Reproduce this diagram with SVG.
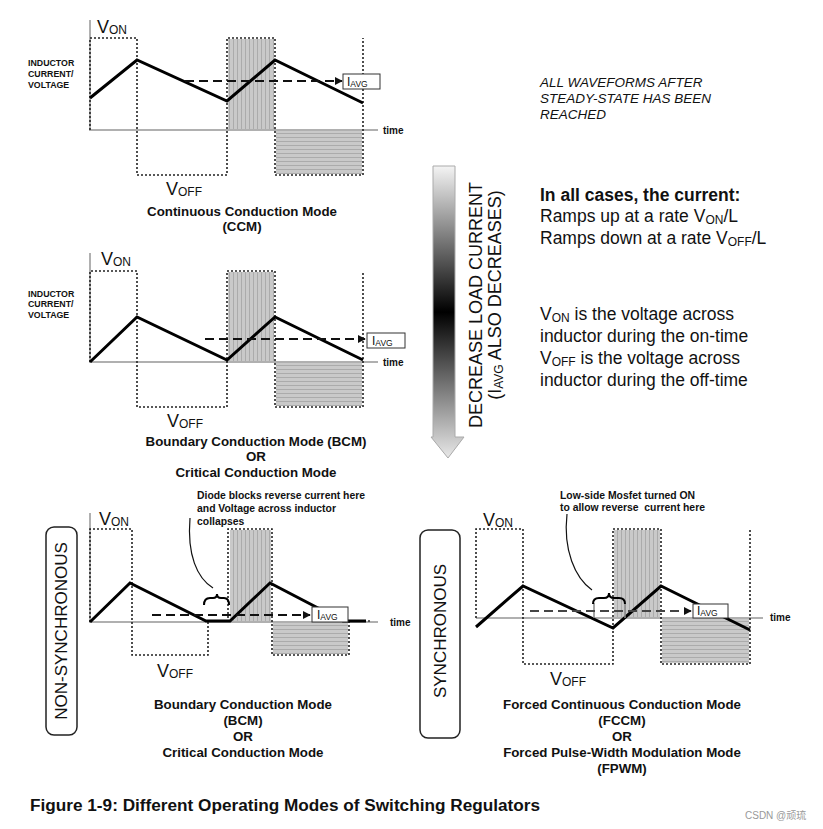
<svg xmlns="http://www.w3.org/2000/svg" width="823" height="829" viewBox="0 0 823 829">
<defs>
<style>
text{font-family:"Liberation Sans",Arial,sans-serif;fill:#111}
.ax{stroke:#b0b0b0;stroke-width:2;fill:none}
.dot{stroke:#222;stroke-width:1.6;stroke-dasharray:2 2;fill:none}
.wave{stroke:#000;stroke-width:3;fill:none;stroke-linejoin:miter}
.dash{stroke:#111;stroke-width:2;stroke-dasharray:9 5;fill:none}
.box{fill:#fff;stroke:#333;stroke-width:1}
.lbl{font-size:8.8px;font-weight:bold}
.tm{font-size:10px;font-weight:bold}
.ttl{font-size:13.3px;font-weight:bold;text-anchor:middle}
.ann{font-size:10.4px;font-weight:bold}
.v{font-size:18px}
.sub{font-size:12px}
.ia{font-size:12px}
.ias{font-size:8.5px}
.rt{font-size:17.5px}
.it{font-size:13.5px;font-style:italic}
.vert{font-size:17px;text-anchor:middle}
</style>
<pattern id="pv" width="4" height="4" patternUnits="userSpaceOnUse"><rect width="4" height="4" fill="#c9c9c9"/><rect x="1" width="1" height="4" fill="#ababab"/></pattern>
<pattern id="ph" width="4" height="4" patternUnits="userSpaceOnUse"><rect width="4" height="4" fill="#c9c9c9"/><rect y="1" width="4" height="1" fill="#ababab"/></pattern>
<marker id="ah" viewBox="0 0 10 10" refX="9" refY="5" markerWidth="4" markerHeight="4" orient="auto"><path d="M0,0 L10,5 L0,10 Z" fill="#111"/></marker>
<linearGradient id="gr" x1="0" y1="0" x2="0" y2="1">
<stop offset="0" stop-color="#f4f4f4"/><stop offset="0.5" stop-color="#000"/><stop offset="1" stop-color="#e8e8e8"/>
</linearGradient>
</defs>
<rect width="823" height="829" fill="#fff"/>

<!-- Top plot: CCM -->
<g id="ccm">
<rect x="228" y="39" width="46" height="91" fill="url(#pv)"/>
<rect x="276" y="131" width="86" height="43" fill="url(#ph)"/>
<path class="ax" d="M90,20 V130 H378"/>
<path class="dot" d="M90,130 V38 H137 V175 H227 V38 H275 V175 H363 V38"/>
<path class="wave" d="M90,98 L137,60 L227,101 L275,60 L363,103"/>
<path class="dash" d="M185,81 H342" marker-end="url(#ah)"/>
<rect class="box" x="343" y="74" width="37" height="15"/>
<text x="347" y="86"><tspan class="ia">I</tspan><tspan class="ias" dy="1">AVG</tspan></text>
<text class="lbl" x="28" y="66">INDUCTOR</text>
<text class="lbl" x="28" y="77">CURRENT/</text>
<text class="lbl" x="28" y="88">VOLTAGE</text>
<text class="tm" x="383" y="134">time</text>
<text x="97" y="33"><tspan class="v">V</tspan><tspan class="sub" dy="1">ON</tspan></text>
<text x="166" y="195"><tspan class="v">V</tspan><tspan class="sub" dy="1">OFF</tspan></text>
<text class="ttl" x="242" y="216">Continuous Conduction Mode</text>
<text class="ttl" x="242" y="231">(CCM)</text>
</g>

<!-- Middle plot: BCM -->
<g id="bcm">
<rect x="228" y="272" width="46" height="90" fill="url(#pv)"/>
<rect x="276" y="363" width="86" height="43" fill="url(#ph)"/>
<path class="ax" d="M90,253 V362 H378"/>
<path class="dot" d="M90,362 V271 H137 V407 H227 V271 H275 V407 H363 V271"/>
<path class="wave" d="M90,362 L137,317 L227,360 L275,317 L363,360"/>
<path class="dash" d="M205,339 H365" marker-end="url(#ah)"/>
<rect class="box" x="367" y="333" width="38" height="15"/>
<text x="372" y="345"><tspan class="ia">I</tspan><tspan class="ias" dy="1">AVG</tspan></text>
<text class="lbl" x="28" y="297">INDUCTOR</text>
<text class="lbl" x="28" y="307">CURRENT/</text>
<text class="lbl" x="28" y="318">VOLTAGE</text>
<text class="tm" x="383" y="366">time</text>
<text x="101" y="265"><tspan class="v">V</tspan><tspan class="sub" dy="1">ON</tspan></text>
<text x="167" y="427"><tspan class="v">V</tspan><tspan class="sub" dy="1">OFF</tspan></text>
<text class="ttl" x="256" y="446">Boundary Conduction Mode (BCM)</text>
<text class="ttl" x="256" y="461">OR</text>
<text class="ttl" x="256" y="477">Critical Conduction Mode</text>
</g>

<!-- Bottom-left: non-synchronous -->
<g id="nonsync">
<rect x="46" y="527" width="31" height="208" rx="8" fill="#fff" stroke="#222" stroke-width="1.5"/>
<text class="vert" transform="translate(67,631) rotate(-90)">NON-SYNCHRONOUS</text>
<rect x="230" y="530" width="41" height="92" fill="url(#pv)"/>
<rect x="273" y="623" width="75" height="31" fill="url(#ph)"/>
<path class="ax" d="M90,513 V622 H378"/>
<path class="dot" d="M90,622 V529 H132 V655 H208 V622 M228,622 V529 H272 V655 H349 V622"/>
<path class="wave" d="M90,622 L130,583 L206,621 L230,621 L270,583 L343,621 L366,621"/>
<circle cx="369" cy="621" r="1" fill="#333"/>
<path class="dash" d="M152,615 H310" marker-end="url(#ah)"/>
<rect class="box" x="312" y="607" width="36" height="15"/>
<text x="317" y="619"><tspan class="ia">I</tspan><tspan class="ias" dy="1">AVG</tspan></text>
<text class="tm" x="390" y="626">time</text>
<text x="99" y="525"><tspan class="v">V</tspan><tspan class="sub" dy="1">ON</tspan></text>
<text x="157" y="677"><tspan class="v">V</tspan><tspan class="sub" dy="1">OFF</tspan></text>
<path d="M204,605 Q204,598 210,598 L213,598 Q217,598 217,594 Q217,598 221,598 L224,598 Q229,598 229,605" fill="none" stroke="#000" stroke-width="2"/>
<path d="M190,518 C187,555 197,578 213,588" fill="none" stroke="#111" stroke-width="1.2"/>
<text class="ann" x="197" y="499">Diode blocks reverse current here</text>
<text class="ann" x="197" y="512">and Voltage across inductor</text>
<text class="ann" x="197" y="525">collapses</text>
<text class="ttl" x="243" y="709">Boundary Conduction Mode</text>
<text class="ttl" x="243" y="725">(BCM)</text>
<text class="ttl" x="243" y="741">OR</text>
<text class="ttl" x="243" y="757">Critical Conduction Mode</text>
</g>

<!-- Bottom-right: synchronous -->
<g id="sync">
<rect x="420" y="530" width="40" height="208" rx="8" fill="#fff" stroke="#222" stroke-width="1.5"/>
<text class="vert" transform="translate(446,631) rotate(-90)">SYNCHRONOUS</text>
<rect x="614" y="530" width="46" height="88" fill="url(#pv)"/>
<rect x="662" y="619" width="87" height="44" fill="url(#ph)"/>
<path class="ax" d="M476,618 H763"/>
<path class="dot" d="M476,618 V529 H523 V664 H613 V529 H661 V664 H750 V529"/>
<path class="wave" d="M476,627 L523,586 L613,628 L661,586 L750,630"/>
<path d="M594,603 V618 M625,603 V618" stroke="#888" stroke-width="1.5"/>
<path class="dash" style="stroke:#444" d="M530,611 H691" marker-end="url(#ah)"/>
<rect class="box" x="693" y="604" width="35" height="14"/>
<text x="697" y="615"><tspan class="ia">I</tspan><tspan class="ias" dy="1">AVG</tspan></text>
<text class="tm" x="770" y="621">time</text>
<text x="483" y="526"><tspan class="v">V</tspan><tspan class="sub" dy="1">ON</tspan></text>
<text x="550" y="685"><tspan class="v">V</tspan><tspan class="sub" dy="1">OFF</tspan></text>
<path d="M593,604 Q593,598 599,598 L604,598 Q609,598 609,593 Q609,598 614,598 L619,598 Q625,598 625,604" fill="none" stroke="#000" stroke-width="2"/>
<path d="M567,514 C563,550 575,578 592,590" fill="none" stroke="#111" stroke-width="1.2"/>
<text class="ann" x="560" y="499">Low-side Mosfet turned ON</text>
<text class="ann" x="560" y="511" xml:space="preserve">to allow reverse  current here</text>
<text class="ttl" x="622" y="709">Forced Continuous Conduction Mode</text>
<text class="ttl" x="622" y="725">(FCCM)</text>
<text class="ttl" x="622" y="741">OR</text>
<text class="ttl" x="622" y="757">Forced Pulse-Width Modulation Mode</text>
<text class="ttl" x="622" y="773">(FPWM)</text>
</g>

<!-- Right panel -->
<g id="notes">
<text class="it" x="540" y="87">ALL WAVEFORMS AFTER</text>
<text class="it" x="540" y="103">STEADY-STATE HAS BEEN</text>
<text class="it" x="540" y="119">REACHED</text>
<text class="rt" x="540" y="201" font-weight="bold">In all cases, the current:</text>
<text class="rt" x="540" y="222">Ramps up at a rate V<tspan font-size="12" dy="2">ON</tspan><tspan dy="-2">/L</tspan></text>
<text class="rt" x="540" y="244">Ramps down at a rate V<tspan font-size="12" dy="2">OFF</tspan><tspan dy="-2">/L</tspan></text>
<text class="rt" x="540" y="320">V<tspan font-size="12" dy="2">ON</tspan><tspan dy="-2"> is the voltage across</tspan></text>
<text class="rt" x="540" y="342">inductor during the on-time</text>
<text class="rt" x="540" y="364">V<tspan font-size="12" dy="2">OFF</tspan><tspan dy="-2"> is the voltage across</tspan></text>
<text class="rt" x="540" y="386">inductor during the off-time</text>
</g>

<g id="load-arrow">
<path d="M433,166 H455 V437 H464 L448,458 L431,437 H433 Z" fill="url(#gr)" stroke="#aaa" stroke-width="1"/>
<text class="vert" style="font-size:18px" transform="translate(482,305) rotate(-90)">DECREASE LOAD CURRENT</text>
<text class="vert" style="font-size:18px" transform="translate(501,295) rotate(-90)">(I<tspan font-size="12" dy="2">AVG</tspan><tspan dy="-2"> ALSO DECREASES)</tspan></text>
</g>

<g id="caption">
<text x="30" y="811" font-size="16" font-weight="bold" textLength="510" lengthAdjust="spacingAndGlyphs" style="font-family:'Liberation Sans Narrow','Liberation Sans',sans-serif">Figure 1-9: Different Operating Modes of Switching Regulators</text>
<text x="745" y="819" font-size="10" style="fill:#999;font-family:'Liberation Sans','Noto Sans CJK SC',sans-serif">CSDN @顽琉</text>
</g>
</svg>
